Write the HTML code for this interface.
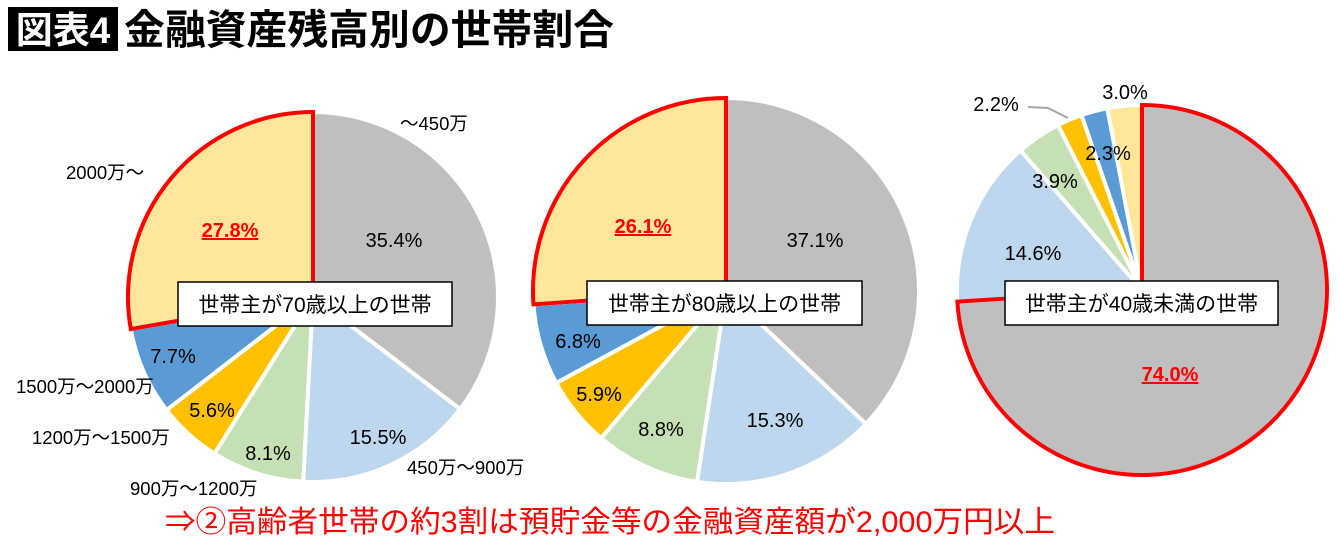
<!DOCTYPE html>
<html><head><meta charset="utf-8"><style>
body{margin:0;width:1340px;height:542px;background:#fff;overflow:hidden;font-family:"Liberation Sans","Noto Sans CJK JP",sans-serif;}
svg{position:absolute;left:0;top:0}
</style></head><body>
<svg id="chart" width="1340" height="542">
<rect x="8" y="7" width="110" height="44" fill="#000"/>
<text x="63" y="43" fill="#fff" font-size="37" font-weight="bold" text-anchor="middle" font-family="Liberation Sans,Noto Sans CJK JP,sans-serif">図表4</text>
<text x="124" y="44" fill="#000" font-size="41" font-weight="bold" textLength="490" lengthAdjust="spacingAndGlyphs" font-family="Liberation Sans,Noto Sans CJK JP,sans-serif">金融資産残高別の世帯割合</text>
<text x="165" y="532" fill="#ff0000" font-size="30" textLength="890" lengthAdjust="spacingAndGlyphs" font-family="Liberation Sans,Noto Sans CJK JP,sans-serif">⇒②高齢者世帯の約3割は預貯金等の金融資産額が2,000万円以上</text>
</svg>
<script>
const categories=["~450万","450万~900万","900万~1200万","1200万~1500万","1500万~2000万","2000万~"];
const seriesA=[35.4,15.5,8.1,5.6,7.7,27.8];
const seriesB=[37.1,15.3,8.8,5.9,6.8,26.1];
const seriesC=[74.0,14.6,3.9,2.2,2.3,3.0];
const colors=["#bfbfbf","#bdd7ee","#c5e0b4","#ffc000","#5b9bd5","#ffe699"];
const svg=document.getElementById('chart');
const NS='http://www.w3.org/2000/svg';
function mk(t,a){const e=document.createElementNS(NS,t);for(const k in a)e.setAttribute(k,a[k]);return e;}
function pt(cx,cy,r,f){const a=f*2*Math.PI;return [cx+r*Math.sin(a),cy-r*Math.cos(a)];}
function pie(vals,cx,cy,r,hi,title,box,labels,id){
  const g=mk('g',{});
  
  
  svg.appendChild(g);
  const tot=vals.reduce((a,b)=>a+b,0);let acc=0;
  vals.forEach((v,i)=>{
    const f0=acc/tot,f1=(acc+v)/tot;acc+=v;
    const [x0,y0]=pt(cx,cy,r,f0),[x1,y1]=pt(cx,cy,r,f1);
    const large=(f1-f0)>0.5?1:0;
    const p=mk('path',{d:`M${cx},${cy}L${x0},${y0}A${r},${r} 0 ${large} 1 ${x1},${y1}Z`,fill:colors[i],stroke:'#fff','stroke-width':4,'stroke-linejoin':'round'});
    
    
    g.appendChild(p);
  });
  acc=0;
  vals.forEach((v,i)=>{
    const f0=acc/tot,f1=(acc+v)/tot;acc+=v;
    const L=labels[i];
    let lx,ly;
    if(Array.isArray(L)){lx=L[0];ly=L[1];}else{[lx,ly]=pt(cx,cy,r*L,(f0+f1)/2);}
    const t=mk('text',{x:lx,y:ly+7,'font-size':20,'text-anchor':'middle',fill:i===hi?'#ff0000':'#000','font-weight':i===hi?'bold':'normal','text-decoration':i===hi?'underline':'none'});
    t.textContent=vals[i].toFixed(1)+'%';
    
    
    g.appendChild(t);
  });
  let s=0;for(let i=0;i<hi;i++)s+=vals[i];
  const f0=s/tot,f1=(s+vals[hi])/tot;
  const [x0,y0]=pt(cx,cy,r,f0),[x1,y1]=pt(cx,cy,r,f1);
  const h=mk('path',{d:`M${cx},${cy}L${x0},${y0}A${r},${r} 0 ${(f1-f0)>0.5?1:0} 1 ${x1},${y1}Z`,fill:'none',stroke:'#ff0000','stroke-width':4});
  
  
  g.appendChild(h);
  const b=mk('rect',{x:box[0],y:box[1],width:box[2],height:44,fill:'#fff',stroke:'#000','stroke-width':1.5});
  
  
  g.appendChild(b);
  const bt=mk('text',{x:box[0]+box[2]/2,y:box[1]+30,'font-size':21,'text-anchor':'middle'});
  bt.textContent=title;
  
  
  g.appendChild(bt);
}
pie(seriesA,313,297,185,5,'世帯主が70歳以上の世帯',[178,282,274],[[394,240],[378,437],[268,453],[212,410],[173,356],[230,230]],'pie-70plus');
pie(seriesB,726,291,193,5,'世帯主が80歳以上の世帯',[587,281,275],[[815,240],[775,420],[661,429],[599,394],[578,341],[643,226]],'pie-80plus');
pie(seriesC,1142,290,185,0,'世帯主が40歳未満の世帯',[1005,281,273],[[1170,374],[1033,253],[1055,181],[996,104],[1108,153],[1125,92]],'pie-under40');
const cats=[["~450万",400,130],["450万~900万",407,474],["900万~1200万",130,495],["1200万~1500万",32,444],["1500万~2000万",16,393],["2000万~",66,179]];
cats.forEach((c,i)=>{const t=mk('text',{x:c[1],y:c[2],'font-size':18.5});t.textContent=c[0].replace(/~/g,'～');


svg.appendChild(t);});
const ld=mk('path',{d:'M1028,107 L1048,108 L1068,118',stroke:'#a6a6a6','stroke-width':2,fill:'none'});


svg.appendChild(ld);
</script>
</body></html>
